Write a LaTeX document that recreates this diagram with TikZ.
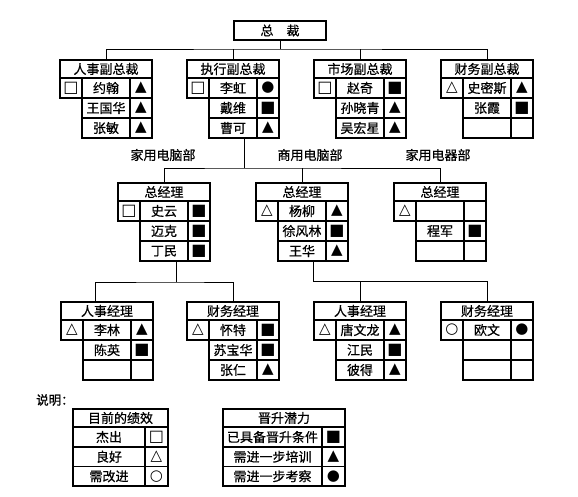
\documentclass[tikz,border=0pt]{standalone}
\usepackage{fontspec}
\setmainfont{Noto Sans CJK SC}[FakeBold=0.6]
\newfontfamily\symf{DejaVu Sans}
\newcommand{\wsq}{{\symf\fontsize{16}{16}\selectfont □}}
\newcommand{\bsq}{{\symf\fontsize{16}{16}\selectfont ■}}
\newcommand{\wtri}{{\symf\fontsize{15}{15}\selectfont △}}
\newcommand{\btri}{{\symf\fontsize{15}{15}\selectfont ▲}}
\newcommand{\wcir}{{\symf\fontsize{15}{15}\selectfont ○}}
\newcommand{\bcir}{{\symf\fontsize{15}{15}\selectfont ●}}
\tikzset{
  cell/.style={draw, line width=1.1pt, inner sep=0pt, outer sep=0pt, minimum height=20pt, font=\fontsize{13}{14}\selectfont, anchor=north west},
  hcell/.style={cell, minimum height=18pt, minimum width=92pt},
  conn/.style={line width=0.8pt},
  dept/.style={font=\fontsize{13}{14}\selectfont, inner sep=0pt},
}
% top part of an org box: prefix, x, y, header, left symbol, name, right symbol
\newcommand{\orgtop}[7]{%
  \node[hcell] (#1-h) at (#2,#3) {#4};
  \node[cell, minimum width=22pt] (#1-a1) at (#1-h.south west) {#5};
  \node[cell, minimum width=48pt] (#1-n1) at (#1-a1.north east) {#6};
  \node[cell, minimum width=22pt] (#1-b1) at (#1-n1.north east) {#7};
}
% rows 2 and 3 of an org box
\newcommand{\orgrows}[5]{%
  \node[cell, minimum width=48pt] (#1-n2) at (#1-n1.south west) {#2};
  \node[cell, minimum width=22pt] (#1-b2) at (#1-n2.north east) {#3};
  \node[cell, minimum width=48pt] (#1-n3) at (#1-n2.south west) {#4};
  \node[cell, minimum width=22pt] (#1-b3) at (#1-n3.north east) {#5};
}
\begin{document}
\begin{tikzpicture}[x=1pt,y=-1pt]
\useasboundingbox[fill=white] (0,0) rectangle (578,497);

% president
\node[cell, minimum width=92pt, minimum height=19pt] (pres) at (234,21) {总\hspace{1em}裁};

% vice presidents
\orgtop{vp1}{60}{60}{人事副总裁}{\wsq}{约翰}{\btri}
\orgrows{vp1}{王国华}{\btri}{张敏}{\btri}
\orgtop{vp2}{187}{60}{执行副总裁}{\wsq}{李虹}{\bcir}
\orgrows{vp2}{戴维}{\bsq}{曹可}{\btri}
\orgtop{vp3}{314}{60}{市场副总裁}{\wsq}{赵奇}{\bsq}
\orgrows{vp3}{孙晓青}{\btri}{吴宏星}{\btri}
\orgtop{vp4}{441}{60}{财务副总裁}{\wtri}{史密斯}{\btri}
\orgrows{vp4}{张霞}{\bsq}{}{}

% connectors president -> vps
\coordinate (bus1) at (279,49);
\draw[conn] (pres.south) -- (pres.south |- bus1);
\draw[conn] (vp1-h.north) |- (bus1) -| (vp4-h.north);
\draw[conn] (vp2-h.north) -- (vp2-h.north |- bus1);
\draw[conn] (vp3-h.north) -- (vp3-h.north |- bus1);

% department labels
\node[dept] (d1) at (163,155) {家用电脑部};
\node[dept] (d2) at (310,155) {商用电脑部};
\node[dept] (d3) at (438,155) {家用电器部};

% general managers
\orgtop{gmA}{118}{183}{总经理}{\wsq}{史云}{\bsq}
\orgrows{gmA}{迈克}{\bsq}{丁民}{\bsq}
\orgtop{gmB}{256}{183}{总经理}{\wtri}{杨柳}{\btri}
\orgrows{gmB}{徐风林}{\bsq}{王华}{\btri}
\orgtop{gmC}{394}{183}{总经理}{\wtri}{}{}
\orgrows{gmC}{程军}{\bsq}{}{}

% connectors vp2 -> gms
\coordinate (bus2) at (244,168);
\draw[conn] (vp2-n3.south -| bus2) -- (bus2);
\draw[conn] (gmA-h.north) |- (bus2) -| (gmC-h.north);
\draw[conn] (gmB-h.north) -- (gmB-h.north |- bus2);

% managers
\orgtop{mD}{61}{302}{人事经理}{\wtri}{李林}{\btri}
\orgrows{mD}{陈英}{\bsq}{}{}
\orgtop{mE}{187}{302}{财务经理}{\wtri}{怀特}{\bsq}
\orgrows{mE}{苏宝华}{\bsq}{张仁}{\btri}
\orgtop{mF}{314}{302}{人事经理}{\wtri}{唐文龙}{\btri}
\orgrows{mF}{江民}{\bsq}{彼得}{\btri}
\orgtop{mG}{441}{302}{财务经理}{\wcir}{欧文}{\bcir}
\orgrows{mG}{}{}{}{}

% connectors gmA -> D,E
\coordinate (bus3) at (176,282);
\coordinate (dropD) at (95,302);
\draw[conn] (gmA-n3.south -| bus3) -- (bus3);
\draw[conn] (dropD) |- (bus3) -| (mE-h.north);
% connectors gmB -> F,G
\coordinate (bus4) at (313,281);
\draw[conn] (gmB-n3.south -| bus4) -- (bus4) -| (mG-h.north);
\draw[conn] (mF-h.north) -- (mF-h.north |- bus4);

% legend
\node[font=\fontsize{12.5}{13}\selectfont, anchor=west, inner sep=0pt] (note) at (36,400) {说明：};

\node[cell, minimum width=95pt, minimum height=18pt] (l1-h) at (73,409) {目前的绩效};
\node[cell, minimum width=72pt] (l1-t1) at (l1-h.south west) {杰出};
\node[cell, minimum width=23pt] (l1-s1) at (l1-t1.north east) {\wsq};
\node[cell, minimum width=72pt, minimum height=19.5pt] (l1-t2) at (l1-t1.south west) {良好};
\node[cell, minimum width=23pt, minimum height=19.5pt] (l1-s2) at (l1-t2.north east) {\wtri};
\node[cell, minimum width=72pt, minimum height=19.5pt] (l1-t3) at (l1-t2.south west) {需改进};
\node[cell, minimum width=23pt, minimum height=19.5pt] (l1-s3) at (l1-t3.north east) {\wcir};

\node[cell, minimum width=122pt, minimum height=18pt] (l2-h) at (223,409) {晋升潜力};
\node[cell, minimum width=99pt] (l2-t1) at (l2-h.south west) {已具备晋升条件};
\node[cell, minimum width=23pt] (l2-s1) at (l2-t1.north east) {\bsq};
\node[cell, minimum width=99pt, minimum height=19.5pt] (l2-t2) at (l2-t1.south west) {需进一步培训};
\node[cell, minimum width=23pt, minimum height=19.5pt] (l2-s2) at (l2-t2.north east) {\btri};
\node[cell, minimum width=99pt, minimum height=19.5pt] (l2-t3) at (l2-t2.south west) {需进一步考察};
\node[cell, minimum width=23pt, minimum height=19.5pt] (l2-s3) at (l2-t3.north east) {\bcir};
\end{tikzpicture}
\end{document}
